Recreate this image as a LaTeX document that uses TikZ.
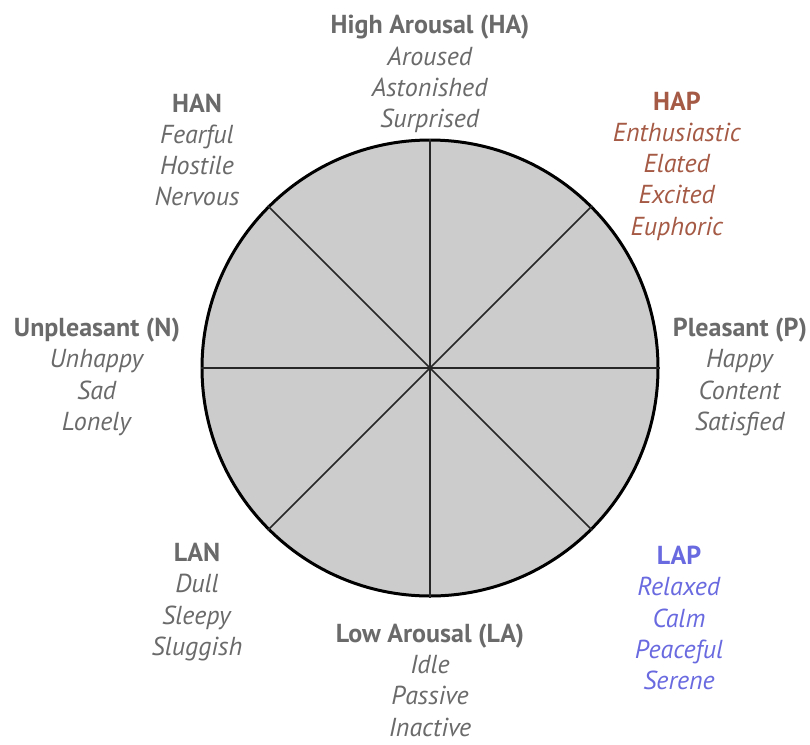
\documentclass[tikz,border=0pt]{standalone}
\usepackage{fontspec}
\setmainfont{PT Sans}
\usepackage{xcolor}
\definecolor{labelgray}{HTML}{6A6A6A}
\definecolor{wheelgray}{HTML}{CCCCCC}
\definecolor{hapbrown}{HTML}{A55A45}
\definecolor{lapblue}{HTML}{6A6AE0}

\tikzset{
  emo/.style={align=center, font=\fontsize{26}{31.3}\selectfont, text=labelgray, inner sep=0pt},
  spoke/.style={line width=1.6pt, black!85},
}

\begin{document}
\begin{tikzpicture}[x=1pt, y=-1pt]
\useasboundingbox (0,0) rectangle (810,744);

% wheel
\node[circle, draw, line width=3pt, fill=wheelgray, minimum size=456pt, inner sep=0pt] (wheel) at (430,368) {};
\foreach \a in {0,45,...,315}
  \draw[spoke] (wheel.center) -- (wheel.\a);

% labels
\node[emo] (ha) at (430,74) {\textbf{High Arousal (HA)}\\\textit{Aroused}\\\textit{Astonished}\\\textit{Surprised}};
\node[emo] (han) at (197,150) {\textbf{HAN}\\\textit{Fearful}\\\textit{Hostile}\\\textit{Nervous}};
\node[emo, text=hapbrown] (hap) at (677,166) {\textbf{HAP}\\\textit{Enthusiastic}\\\textit{Elated}\\\textit{Excited}\\\textit{Euphoric}};
\node[emo] (unp) at (97,377) {\textbf{Unpleasant (N)}\\\textit{Unhappy}\\\textit{Sad}\\\textit{Lonely}};
\node[emo] (ple) at (740,377) {\textbf{Pleasant (P)}\\\textit{Happy}\\\textit{Content}\\\textit{Satisfied}};
\node[emo] (lan) at (197,602) {\textbf{LAN}\\\textit{Dull}\\\textit{Sleepy}\\\textit{Sluggish}};
\node[emo] (la) at (430,680) {\textbf{Low Arousal (LA)}\\\textit{Idle}\\\textit{Passive}\\\textit{Inactive}};
\node[emo, text=lapblue] (lap) at (679,618) {\textbf{LAP}\\\textit{Relaxed}\\\textit{Calm}\\\textit{Peaceful}\\\textit{Serene}};
\end{tikzpicture}
\end{document}
